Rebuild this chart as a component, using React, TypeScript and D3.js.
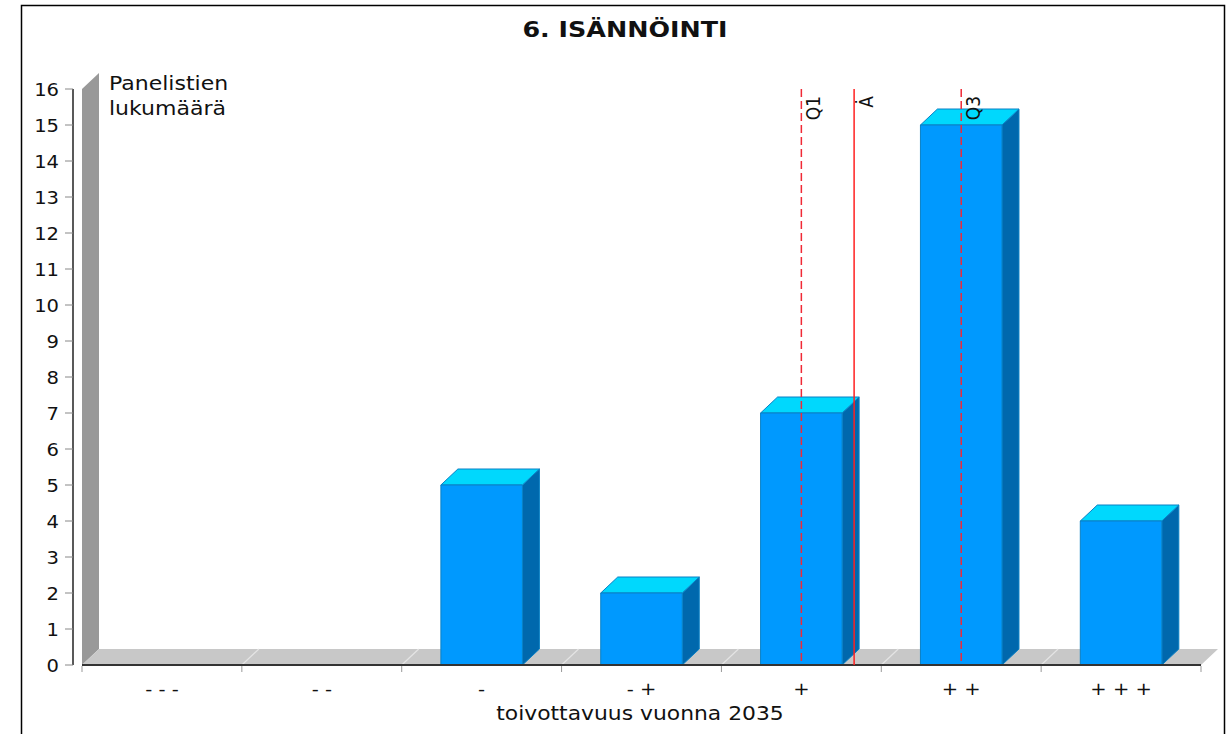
import React from "react";
import * as d3 from "d3";

const categories = ["- - -", "- -", "-", "- +", "+", "+ +", "+ + +"];
const counts = [0, 0, 5, 2, 7, 15, 4];
const yTicks = d3.range(0, 17);
const markers = [
  { label: "Q1", value: 5, dashed: true },
  { label: "Ȧ", value: 5.33, dashed: false },
  { label: "Q3", value: 6, dashed: true },
];
const title = "6. ISÄNNÖINTI";
const yTitle = ["Panelistien", "lukumäärä"];
const xTitle = "toivottavuus vuonna 2035";

const W = 1229;
const H = 734;
const DX = 17;
const DY = 16;
const FONT = "'DejaVu Sans', Verdana, sans-serif";
const SX = 1.15;

function T(props: any) {
  const { x, y, anchor = "start", size = 17, weight = "normal", sx = SX, rot = 0, fill = "#111", children } = props;
  return (
    <text
      transform={`translate(${x},${y}) scale(${sx},1)${rot ? ` rotate(${rot})` : ""}`}
      textAnchor={anchor}
      fontSize={size}
      fontWeight={weight}
      fontFamily={FONT}
      fill={fill}
    >
      {children}
    </text>
  );
}

export default function App() {
  const x0 = 82;
  const x1 = 1201;
  const y = d3.scaleLinear().domain([0, 16]).range([665, 89]);
  const xb = d3.scaleBand<string>().domain(categories).range([x0, x1]).padding(0);
  const bw = xb.bandwidth();
  const barW = bw * 0.51;
  const center = (c: string) => (xb(c) as number) + bw / 2;
  const xv = d3
    .scaleLinear()
    .domain([1, categories.length])
    .range([center(categories[0]), center(categories[categories.length - 1])]);
  const base = y(0);
  const top = y(16);
  const boundaries = d3.range(0, categories.length + 1).map((i) => x0 + i * bw);

  return (
    <svg width={W} height={H} style={{ position: "absolute", left: 0, top: 0, background: "#fff" }}>
      <rect x={21.5} y={5.5} width={1203} height={760} fill="#fff" stroke="#000" strokeWidth={1.5} />
      <T x={625} y={37} anchor="middle" size={21} weight="bold" sx={1.21}>
        {title}
      </T>

      {/* wall */}
      <polygon
        points={`${x0},${base} ${x0},${top} ${x0 + DX},${top - DY} ${x0 + DX},${base - DY}`}
        fill="#999999"
      />
      {/* floor */}
      <polygon
        points={`${x0},${base} ${x1},${base} ${x1 + DX},${base - DY} ${x0 + DX},${base - DY}`}
        fill="#c8c8c8"
      />
      {boundaries.slice(1, -1).map((bx, i) => (
        <line key={"fl" + i} x1={bx} y1={base} x2={bx + DX} y2={base - DY} stroke="#e4e4e4" strokeWidth={1.2} />
      ))}

      {/* y axis */}
      <line x1={73} y1={top} x2={73} y2={base} stroke="#222" strokeWidth={1.5} />
      {yTicks.map((t) => (
        <g key={"yt" + t}>
          <line x1={65} y1={y(t)} x2={73} y2={y(t)} stroke="#888" strokeWidth={1} />
          <T x={59} y={y(t) + 6.5} anchor="end" size={17}>
            {t}
          </T>
        </g>
      ))}
      {yTitle.map((s, i) => (
        <T key={"ytt" + i} x={109} y={90 + i * 25} size={20} sx={1.1}>
          {s}
        </T>
      ))}

      {/* bars */}
      {categories.map((c, i) => {
        const v = counts[i];
        if (!v) return null;
        const cx = center(c);
        const l = cx - barW / 2;
        const r = cx + barW / 2;
        const yt = y(v);
        return (
          <g key={"b" + i} stroke="#0a80c4" strokeWidth={1} strokeLinejoin="round">
            <polygon points={`${r},${base} ${r + DX},${base - DY} ${r + DX},${yt - DY} ${r},${yt}`} fill="#0068ad" />
            <polygon points={`${l},${yt} ${r},${yt} ${r + DX},${yt - DY} ${l + DX},${yt - DY}`} fill="#00d8fd" />
            <rect x={l} y={yt} width={barW} height={base - yt} fill="#0099fe" />
          </g>
        );
      })}

      {/* x axis */}
      <line x1={x0} y1={base} x2={x1} y2={base} stroke="#333" strokeWidth={2} />
      {boundaries.map((bx, i) => (
        <line key={"xt" + i} x1={bx} y1={base + 1} x2={bx} y2={base + 7} stroke="#999" strokeWidth={1} />
      ))}
      {categories.map((c, i) => (
        <T key={"xl" + i} x={center(c)} y={695} anchor="middle" size={17}>
          {c}
        </T>
      ))}
      <T x={640} y={720} anchor="middle" size={19}>
        {xTitle}
      </T>

      {/* markers */}
      {markers.map((m, i) => {
        const mx = xv(m.value);
        return (
          <g key={"m" + i}>
            <line
              x1={mx}
              y1={top}
              x2={mx}
              y2={base}
              stroke={m.dashed ? "#f02a36" : "#ff2020"}
              strokeWidth={1.5}
              strokeDasharray={m.dashed ? "8,4" : undefined}
            />
            <T x={mx + 19} y={96} anchor="end" size={17} rot={-90}>
              {m.label}
            </T>
          </g>
        );
      })}
    </svg>
  );
}
